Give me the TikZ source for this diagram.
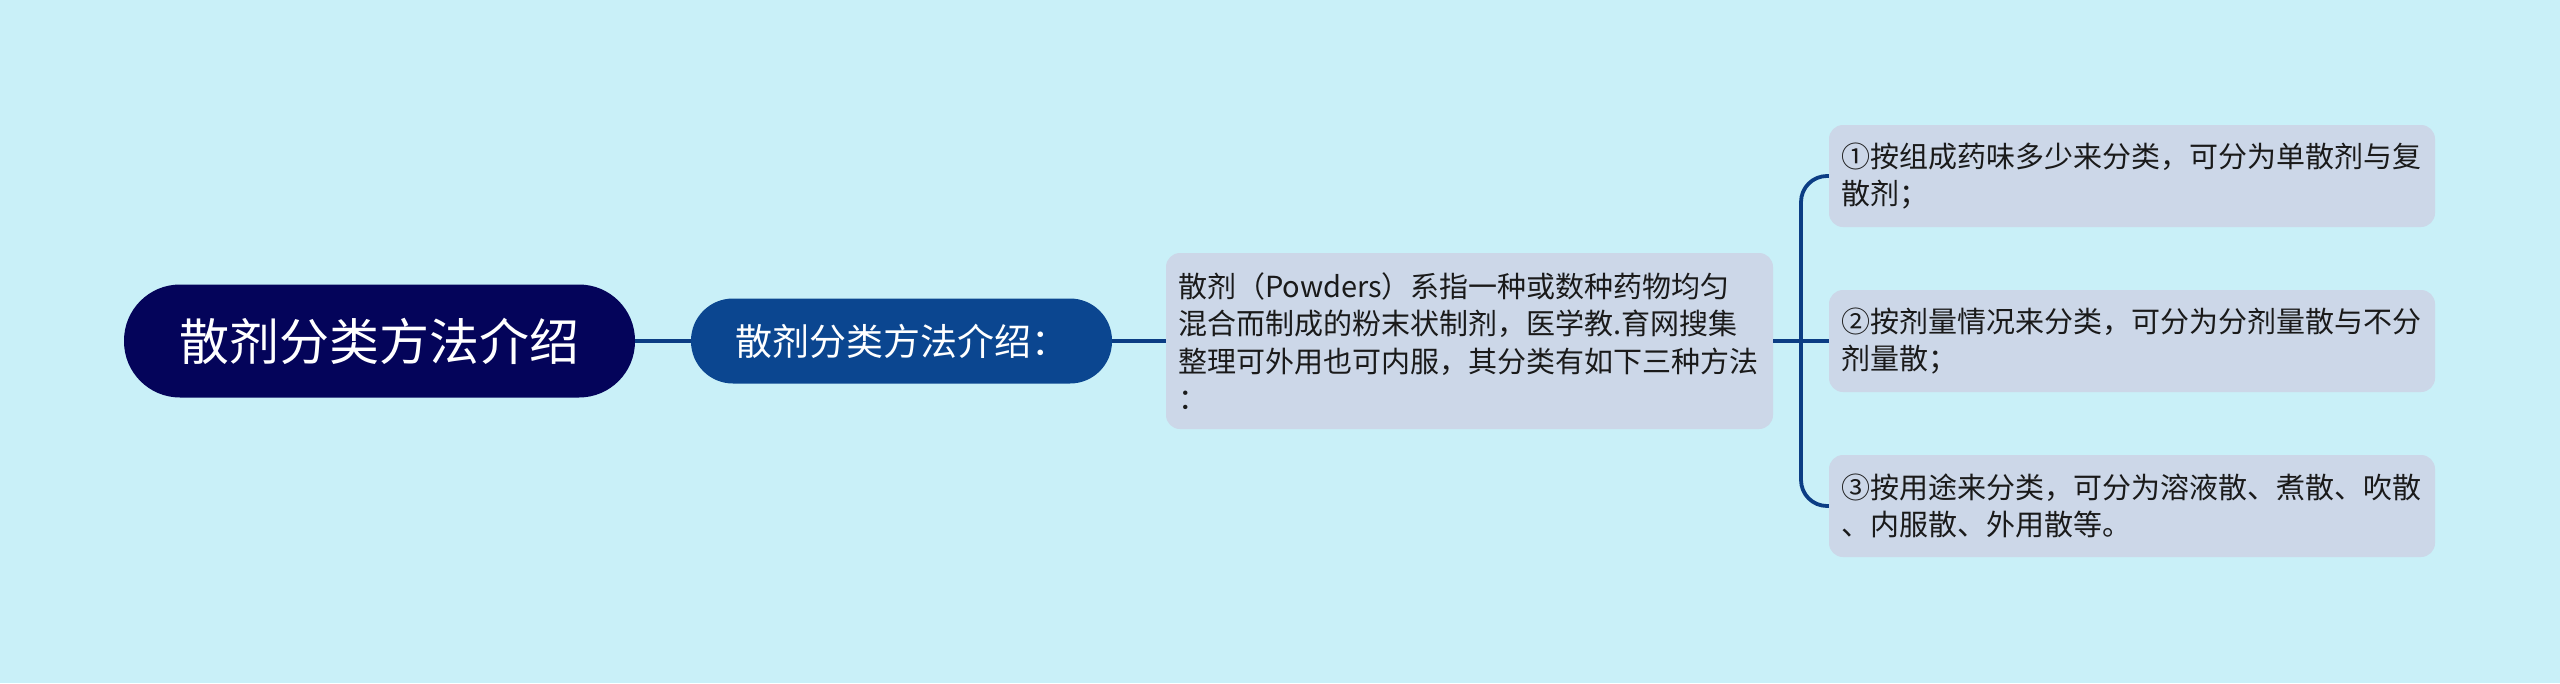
\documentclass[tikz,border=0pt]{standalone}
\usepackage{fontspec}
\setmainfont{Noto Sans CJK SC}
\definecolor{bgC}{HTML}{C9F0F8}
\definecolor{rootC}{HTML}{04045A}
\definecolor{lOneC}{HTML}{0B4690}
\definecolor{boxC}{HTML}{CCD7E8}
\definecolor{lineC}{HTML}{0B3D84}
\definecolor{txtC}{HTML}{1A1A1A}
\begin{document}
\begin{tikzpicture}[x=1pt,y=-1pt,
  conn/.style={draw=lineC, line width=3.8pt},
  rootbox/.style={fill=rootC, rounded corners=56pt, minimum width=511pt, minimum height=113pt, text=white, inner sep=0pt, font=\fontsize{50}{60}\selectfont},
  lonebox/.style={fill=lOneC, rounded corners=42pt, minimum width=421pt, minimum height=85pt, text=white, inner sep=0pt, font=\fontsize{37}{44}\selectfont},
  descbox/.style={fill=boxC, rounded corners=14pt, minimum width=607pt, minimum height=176pt, text=txtC, inner sep=0pt, text width=583pt, align=left, font=\fontsize{29}{37.5}\selectfont},
  leafbox/.style={fill=boxC, rounded corners=14pt, minimum width=606pt, minimum height=102pt, text=txtC, inner sep=0pt, text width=582pt, align=left, font=\fontsize{29}{36.5}\selectfont}
]
\fill[bgC] (0,0) rectangle (2560,683);
\useasboundingbox (0,0) rectangle (2560,683);

\node[rootbox] (root) at (379.5,341) {散剂分类方法介绍};
\node[lonebox] (l1) at (901.5,341) {散剂分类方法介绍：};
\node[descbox] (l2) at (1469.5,341) {散剂（Powders）系指一种或数种药物均匀\\混合而制成的粉末状制剂，医学教.育网搜集\\整理可外用也可内服，其分类有如下三种方法\\：};
\node[leafbox] (b1) at (2132,176) {①按组成药味多少来分类，可分为单散剂与复\\散剂；};
\node[leafbox] (b2) at (2132,341) {②按剂量情况来分类，可分为分剂量散与不分\\剂量散；};
\node[leafbox] (b3) at (2132,506) {③按用途来分类，可分为溶液散、煮散、吹散\\、内服散、外用散等。};

\coordinate (bx) at (1801,341);
\draw[conn] (root.east) -- (l1.west);
\draw[conn] (l1.east) -- (l2.west);
\draw[conn] (l2.east) -- (b2.west);
\draw[conn, rounded corners=26pt] (b1.west) -| (bx) |- (b3.west);
\end{tikzpicture}
\end{document}
